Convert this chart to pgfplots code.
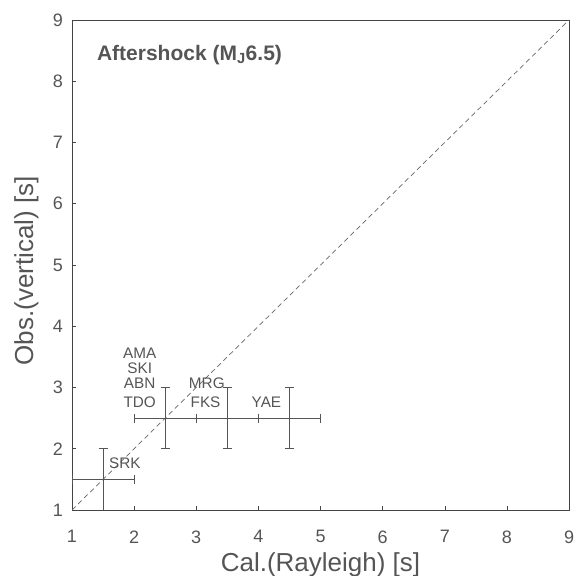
\documentclass[border=0pt]{standalone}
\usepackage{pgfplots}
\pgfplotsset{compat=1.18}
\usepackage{fontspec}
\setmainfont{Liberation Sans}
\definecolor{txt}{HTML}{555555}
\definecolor{ax}{HTML}{444444}
\begin{document}
\begin{tikzpicture}
\begin{axis}[
  name=ax,
  scale only axis,
  width=497pt, height=490pt,
  xmin=1, xmax=9, ymin=1, ymax=9,
  xtick={1,...,9}, ytick={1,...,9},
  tick align=inside,
  xtick pos=bottom, ytick pos=left,
  major tick length=4pt,
  tick style={ax, line width=0.5pt},
  axis line style={ax, line width=0.9pt},
  /pgf/number format/assume math mode=true,
  tick label style={font=\fontsize{18}{20}\selectfont, text=txt},
  xticklabel style={yshift=-17pt},
  yticklabel style={xshift=-5.5pt},
  xlabel={Cal.(Rayleigh) [s]},
  ylabel={Obs.(vertical) [s]},
  label style={font=\fontsize{26}{28}\selectfont, text=txt},
  xlabel style={at={(axis description cs:0.5,-0.112)}, anchor=center},
  ylabel style={at={(axis description cs:-0.0915,0.488)}, anchor=center},
]
\addplot[gray!80!black, line width=0.7pt, dash pattern=on 5pt off 3.5pt] coordinates {(1,1) (9,9)};
\addplot[draw=none, mark=none,
  error bars/.cd, x dir=both, y dir=both, x explicit, y explicit,
  error bar style={draw=txt, line width=1pt},
  error mark options={draw=txt, line width=1pt, mark size=4.5pt, rotate=90}]
  coordinates {
  (1.5,1.5) +- (0.5,0.5)
  (2.5,2.5) +- (0.5,0.5)
  (3.5,2.5) +- (0.5,0.5)
  (4.5,2.5) +- (0.5,0.5)
  };
\begin{scope}[every node/.style={text=txt, font=\fontsize{15.3}{16}\selectfont, inner sep=0pt}]
\node at (axis cs:2.09,3.56) {AMA};
\node at (axis cs:2.09,3.31) {SKI};
\node at (axis cs:2.09,3.07) {ABN};
\node at (axis cs:2.09,2.76) {TDO};
\node at (axis cs:3.17,3.07) {MRG};
\node at (axis cs:3.15,2.76) {FKS};
\node at (axis cs:4.13,2.76) {YAE};
\node at (axis cs:1.85,1.77) {SRK};
\node[anchor=west, font=\bfseries\fontsize{21}{22}\selectfont] at (axis cs:1.40,8.43) {Aftershock (M\textsubscript{J}6.5)};
\end{scope}
\end{axis}
\pgfresetboundingbox
\path ([shift={(-72pt,-66pt)}]ax.south west) rectangle ([shift={(6pt,20pt)}]ax.north east);
\end{tikzpicture}
\end{document}
